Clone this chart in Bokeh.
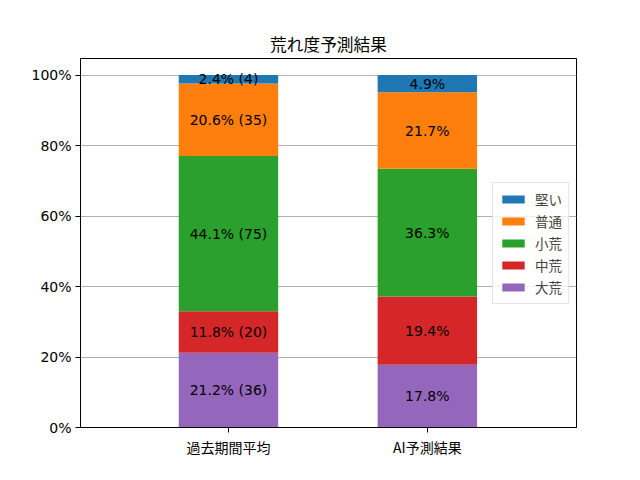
import numpy as np
from bokeh.plotting import figure
from bokeh.models import ColumnDataSource, FixedTicker, Legend, LegendItem, Range1d
from bokeh.core.properties import value
from bokeh.embed import file_html
from bokeh.resources import INLINE

categories = ["過去期間平均", "AI予測結果"]
levels = ["大荒", "中荒", "小荒", "普通", "堅い"]
colors = ["#9467bd", "#d62728", "#2ca02c", "#ff7f0e", "#1f77b4"]
past_pct = [21.2, 11.8, 44.1, 20.6, 2.4]
past_cnt = [36, 20, 75, 35, 4]
ai_pct = [17.8, 19.4, 36.3, 21.7, 4.9]
y_ticks = [0, 20, 40, 60, 80, 100]
y_tick_labels = ["0%", "20%", "40%", "60%", "80%", "100%"]

FONT = "DejaVu Sans, Noto Sans CJK JP"
CJK = "Noto Sans CJK JP"

xs = [0, 1]
data = {"x": xs}
for i, lv in enumerate(levels):
    data[lv] = [past_pct[i], ai_pct[i]]
src = ColumnDataSource(data)

p = figure(width=624, height=464, output_backend="svg", toolbar_location=None,
           x_range=Range1d(-0.744, 1.75), y_range=Range1d(0, 104.8),
           min_border_left=80, min_border_right=48, min_border_top=58, min_border_bottom=37,
           title="荒れ度予測結果")
p.title.align = "center"
p.title.text_font = CJK
p.title.text_font_size = "16.7px"
p.title.text_font_style = "normal"
p.title.text_color = "black"
p.title.standoff = 6

renderers = p.vbar_stack(levels, x="x", width=0.5, color=colors, source=src, line_color=None)

lx, ly, lt = [], [], []
for vals, x, cnt in [(past_pct, 0, past_cnt), (ai_pct, 1, None)]:
    cum = np.cumsum(vals)
    mids = cum - np.array(vals) / 2
    for i, v in enumerate(vals):
        lx.append(x)
        ly.append(mids[i])
        lt.append(f"{v}% ({cnt[i]})" if cnt is not None else f"{v}%")
lsrc = ColumnDataSource(dict(x=lx, y=ly, t=lt))
p.text(x="x", y="y", text="t", source=lsrc, text_align="center", text_baseline="middle",
       text_font=value(FONT), text_font_size="14px", text_color="black")

items = [LegendItem(label=levels[i], renderers=[renderers[i]]) for i in reversed(range(5))]
legend = Legend(items=items, location="center_right", margin=7,
                label_text_font=CJK, label_text_font_size="13.5px",
                glyph_width=28, glyph_height=10, label_standoff=8,
                spacing=2, padding=6, border_line_color="#cccccc",
                background_fill_alpha=0.8)
p.add_layout(legend, "center")

p.xaxis.ticker = FixedTicker(ticks=xs)
p.xaxis.major_label_overrides = {0: categories[0], 1: categories[1]}
p.yaxis.ticker = FixedTicker(ticks=y_ticks)
p.yaxis.major_label_overrides = {t: l for t, l in zip(y_ticks, y_tick_labels)}
for ax in [p.xaxis[0], p.yaxis[0]]:
    ax.major_label_text_font = FONT
    ax.major_label_text_font_size = "14px"
    ax.major_label_text_color = "black"
    ax.axis_line_color = "black"
    ax.major_tick_line_color = "black"
    ax.major_tick_out = 5
    ax.major_tick_in = 0
    ax.minor_tick_line_color = None
    ax.major_label_standoff = 4
p.xaxis[0].major_label_text_font = CJK

p.xgrid.grid_line_color = None
p.ygrid.grid_line_color = "#b0b0b0"
p.ygrid.grid_line_width = 1
p.outline_line_color = "black"
p.outline_line_alpha = 1

open("out.html", "w").write(file_html(p, INLINE))
